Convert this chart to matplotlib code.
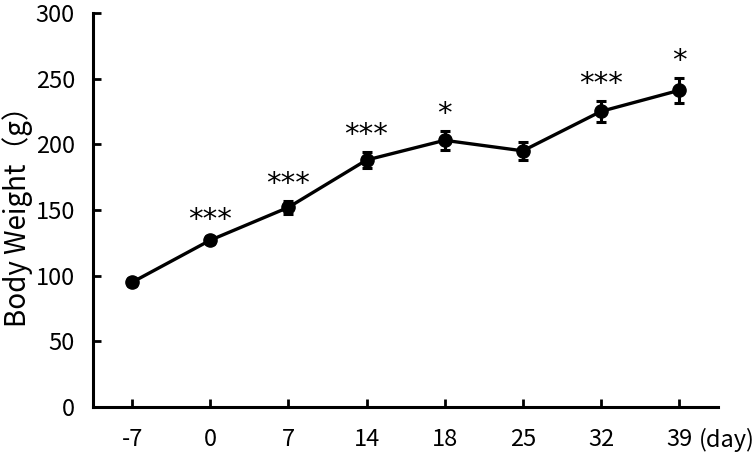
import numpy as np
import matplotlib
matplotlib.use("Agg")
import matplotlib.pyplot as plt

plt.rcParams['font.family'] = ['Noto Sans CJK JP', 'DejaVu Sans']

days = ['-7', '0', '7', '14', '18', '25', '32', '39']
weight = [95, 127, 152, 188, 203, 195, 225, 241]
err = [3, 3, 5, 6, 7, 7, 8, 9.5]
stars = ['', '***', '***', '***', '*', '', '***', '*']

fig = plt.figure(figsize=(7.56, 4.57), dpi=100)
ax = fig.add_axes([0.123, 0.109, 0.827, 0.863])

x = np.arange(len(days))
ax.errorbar(x, weight, yerr=err, color='black', lw=2.4, marker='o', ms=9.5,
            capsize=3.5, capthick=2.2, elinewidth=2.2)

# significance marks above the error bars
for xi, w, e, s in zip(x, weight, err, stars):
    if s:
        ax.annotate(s, (xi, w + e), xytext=(0, 2), textcoords='offset points',
                    ha='center', va='bottom', fontsize=21, family='DejaVu Sans')

ax.set_xlim(-0.5, len(days) - 0.5)
ax.set_ylim(0, 300)
ax.set_yticks(range(0, 301, 50))
ax.set_xticks(x)
ax.set_xticklabels(days)
ax.tick_params(direction='in', length=6, width=2, labelsize=17)
ax.tick_params(axis='x', pad=15)
ax.tick_params(axis='y', pad=13)
for side in ['top', 'right']:
    ax.spines[side].set_visible(False)
for side in ['left', 'bottom']:
    ax.spines[side].set_linewidth(2.2)

ax.set_ylabel('Body Weight（g）', fontsize=20, labelpad=2)
fig.text(0.998, 1 - 440 / 457, '(day)', fontsize=17, ha='right', va='center')

plt.savefig('out.png', dpi=100)
